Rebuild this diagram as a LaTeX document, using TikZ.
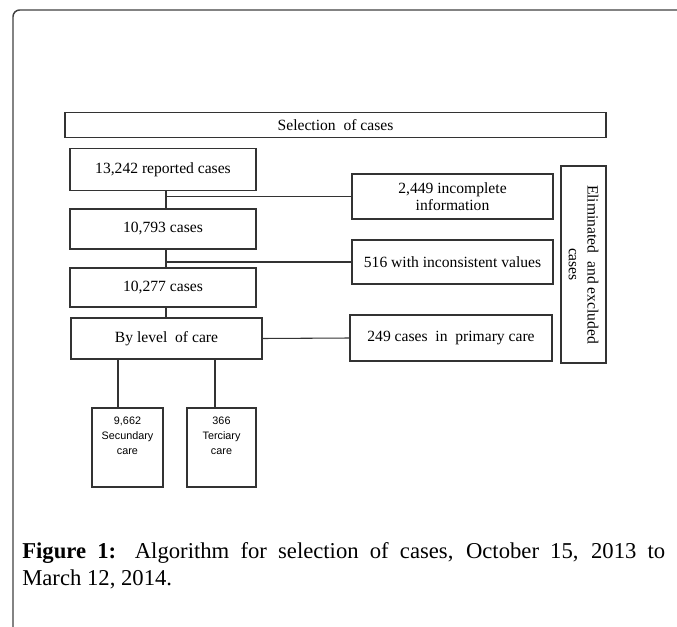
\documentclass[tikz,border=0pt]{standalone}
\usepackage{fontspec}
\setmainfont{Liberation Serif}
\newfontfamily\boxsans{Liberation Sans}
\usetikzlibrary{calc}
\tikzset{
  bx/.style={draw=black!80, line width=0.9pt, inner sep=0pt, outer sep=0pt, align=center,
             font=\fontsize{11.7}{13}\selectfont},
  ln/.style={draw=black!80, line width=0.8pt},
  sbx/.style={draw=black!80, line width=0.9pt, inner sep=0pt, outer sep=0pt}
}
\newcommand{\smalltxt}[3]{\parbox[c][#2][t]{#1}{\centering\boxsans\fontsize{8.1}{11}\selectfont\vspace*{7pt}#3\par}}
\begin{document}
\begin{tikzpicture}[x=0.75pt,y=-0.75pt]
\useasboundingbox (0,0) rectangle (677,627);
% frame
\draw[draw=black!75, line width=1.1pt, rounded corners=5pt] (677,10) -- (13,10) -- (13,627);
% boxes
\node[bx, minimum width=405.75pt, minimum height=18.75pt] (sel) at (335.5,125) {Selection\enspace of cases};
\node[bx, minimum width=139.5pt, minimum height=31.5pt] (r1) at (163,169.5) {13,242 reported cases};
\node[bx, minimum width=139.5pt, minimum height=30pt] (r2) at (163,229) {10,793 cases};
\node[bx, minimum width=139.5pt, minimum height=29.25pt] (r3) at (163,287.5) {10,277 cases};
\node[bx, minimum width=143.25pt, minimum height=30.75pt] (by) at (166.5,338.5) {By level\enspace of care};
\node[bx, minimum width=150.75pt, minimum height=33.75pt] (inc) at (452.5,196.5) {2,449 incomplete\\information};
\node[bx, minimum width=150.75pt, minimum height=33pt] (inv) at (452.5,262) {516 with inconsistent values};
\node[bx, minimum width=151.5pt, minimum height=34.5pt] (prim) at (451,338) {249 cases\enspace in\enspace primary care};
\node[bx, rotate=-90, minimum width=147.75pt, minimum height=33.75pt,
      font=\fontsize{11.7}{14}\selectfont] (elim) at (583.5,264.5) {Eliminated\enspace and excluded\\cases};
\node[sbx] (sec) at (127.5,447.5) {\smalltxt{53.25pt}{59.25pt}{9,662\\Secundary\\care}};
\node[sbx] (ter) at (221.5,447.5) {\smalltxt{51.75pt}{59.25pt}{366\\Terciary\\care}};
% connectors
\coordinate (j1) at ($(r1.south)+(3,0)$);
\coordinate (j2) at ($(r2.south)+(3,0)$);
\coordinate (j3) at ($(r3.south)+(3,0)$);
\draw[ln] (j1) -- (j1 |- r2.north);
\draw[ln] (inc.west) -- (inc.west -| j1);
\draw[ln] (j2) -- (j2 |- r3.north);
\draw[ln] (inv.west) -- (inv.west -| j2);
\draw[ln] (j3) -- (j3 |- by.north);
\draw[ln] (by.east) -- (prim.west);
\coordinate (k1) at ($(by.south)+(-48.5,0)$);
\coordinate (k2) at ($(by.south)+(48.5,0)$);
\draw[ln] (k1) -- (k1 |- sec.north);
\draw[ln] (k2) -- (k2 |- ter.north);
% caption
\node[anchor=north west, inner sep=0pt, text width=482.25pt, align=justify,
      font=\fontsize{17}{20.25}\selectfont] (cap) at (22,542)
  {\textbf{Figure\enspace 1:} Algorithm for selection of cases, October 15, 2013 to\linebreak March 12, 2014.};
\end{tikzpicture}
\end{document}
